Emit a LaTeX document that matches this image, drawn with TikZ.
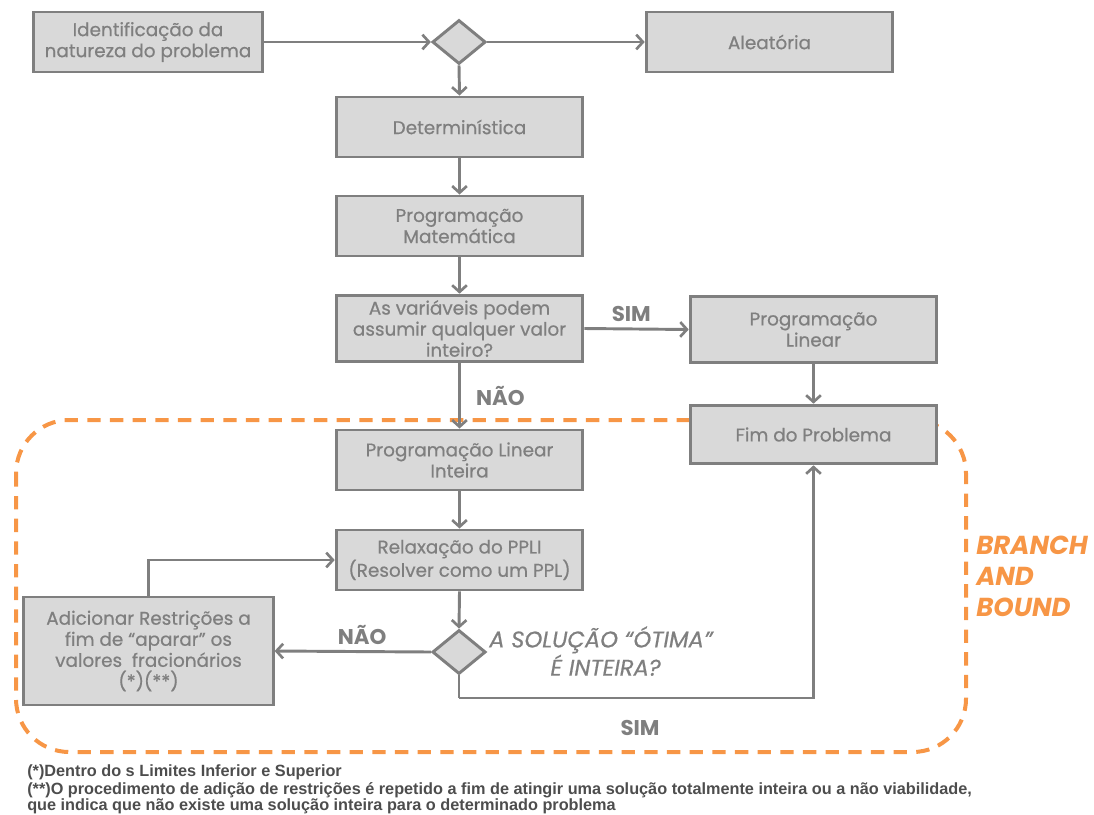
\documentclass[tikz,border=0pt]{standalone}
\usepackage{fontspec}
\setmainfont{Poppins}
\newfontfamily\boxfont[FakeBold=0.6]{Poppins}
\newfontfamily\notefont{Liberation Sans}
\usetikzlibrary{shapes.geometric,arrows.meta}
\definecolor{gtext}{HTML}{7F7F7F}
\definecolor{gfill}{HTML}{D9D9D9}
\definecolor{gline}{HTML}{7F7F7F}
\definecolor{orng}{HTML}{F79646}
\definecolor{notec}{HTML}{4D4D4D}
\tikzset{
  box/.style={draw=gline, fill=gfill, line width=2.2pt, text=gtext, align=center,
    font=\boxfont\fontsize{13.8}{15.8}\selectfont, inner sep=2pt, minimum width=185pt, minimum height=45pt},
  dec/.style={draw=gline, fill=gfill, line width=2.2pt, diamond, aspect=1.23, inner sep=0pt,
    minimum width=40pt, minimum height=33pt},
  conn/.style={draw=gline, line width=2.2pt, -{Straight Barb[length=5pt,width=11pt,line width=2pt]}},
  plain/.style={draw=gline, line width=2.2pt},
  lbl/.style={text=gtext, font=\fontsize{16}{18}\selectfont\bfseries},
  note/.style={text=notec, font=\notefont\bfseries\fontsize{12.2}{13}\selectfont, anchor=west, inner sep=0pt}
}
\begin{document}
\begin{tikzpicture}[x=0.75pt,y=-0.75pt]
\useasboundingbox (0,0) rectangle (1094,814);
% dashed region
\draw[orng, line width=3pt, dash pattern=on 10pt off 7pt, rounded corners=40pt]
  (16,420) rectangle (966,752);
\node[text=orng, font=\fontsize{19.5}{23.2}\selectfont\bfseries\itshape, align=left, anchor=north west, inner sep=0pt] (bb) at (976,536) {BRANCH\\AND\\BOUND};

\node[box, minimum width=172pt] (ident) at (148,42) {Identificação da\\natureza do problema};
\node[dec] (d1) at (459,42) {};
\node[box] (alea) at (769.5,42) {Aleatória};
\node[box] (det) at (459.5,127) {Determinística};
\node[box] (pm) at (459.5,226) {Programação\\Matemática};
\node[box, minimum height=50pt] (var) at (459.5,328.5) {As variáveis podem\\assumir qualquer valor\\inteiro?};
\node[box, minimum height=49pt] (pl) at (813.5,329.5) {Programação\\Linear};
\node[box, minimum height=44pt] (fim) at (813.5,434.5) {Fim do Problema};
\node[box] (pli) at (459.5,460) {Programação Linear\\Inteira};
\node[box] (rel) at (459.5,560) {Relaxação do PPLI\\(Resolver como um PPL)};
\node[dec] (d2) at (459,652) {};
\node[box, minimum width=187pt, minimum height=81pt] (add) at (148.5,651) {Adicionar Restrições a\\fim de “aparar” os\\valores~ fracionários\\(*)(**)};

\node[text=gtext, font=\boxfont\fontsize{17}{19}\selectfont\itshape, align=left, anchor=north west, inner sep=0pt] (q) at (489,626) {A SOLUÇÃO “ÓTIMA”\\\hspace*{2.7em}É INTEIRA?};

\path[conn] (ident.east) -- (d1.west);
\path[conn] (d1.east) -- (alea.west);
\path[conn] (d1.south) -- (det.north);
\path[conn] (det.south) -- (pm.north);
\path[conn] (pm.south) -- (var.north);
\path[conn] (var.east) -- node[lbl, above, pos=0.45, yshift=1pt] (sim1) {SIM} (pl.west);
\path[conn] (var.south) -- node[lbl, right, xshift=8pt] (nao1) {NÃO} (pli.north);
\path[conn] (pl.south) -- (fim.north);
\path[conn] (pli.south) -- (rel.north);
\path[conn] (rel.south) -- (d2.north);
\path[conn] (d2.west) -- node[lbl, above, pos=0.44, yshift=1pt] (nao2) {NÃO} (add.east);
\path[conn] (add.north) |- (rel.west);
\coordinate (sb) at (459,698);
\path[plain] (d2.south) -- (sb);
\path[conn] (sb) -| (fim.south);
\node[lbl] (sim2) at (640,728) {SIM};

\node[note] (n1) at (27,772) {(*)Dentro do s Limites Inferior e Superior};
\node[note] (n2) at (27,790) {(**)O procedimento de adição de restrições é repetido a fim de atingir uma solução totalmente inteira ou a não viabilidade,};
\node[note] (n3) at (27,806) {que indica que não existe uma solução inteira para o determinado problema};
\end{tikzpicture}
\end{document}
